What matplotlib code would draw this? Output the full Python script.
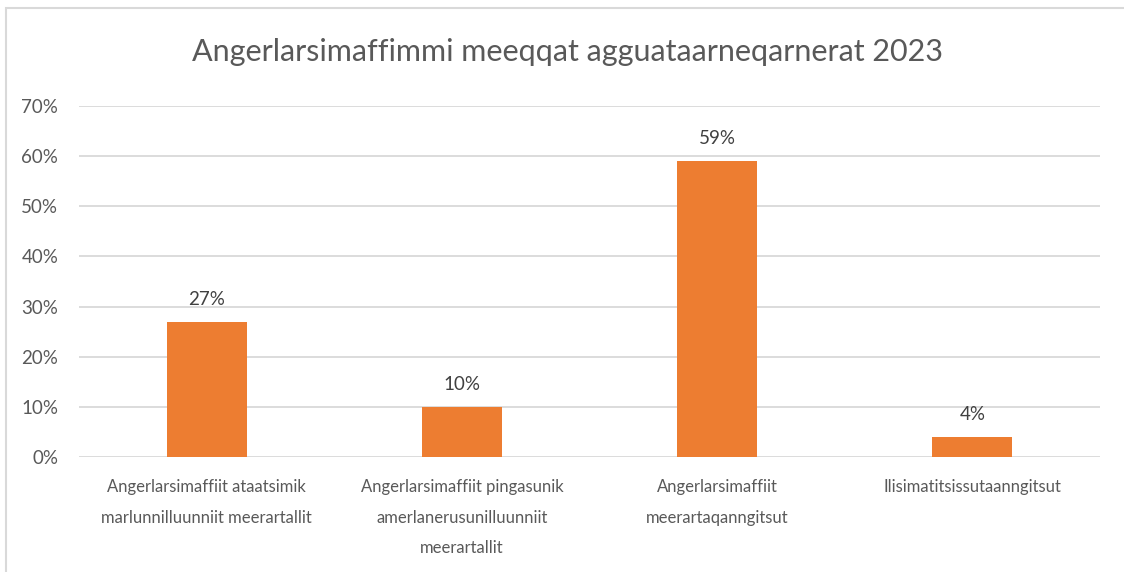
import matplotlib.pyplot as plt
from matplotlib.patches import Rectangle
from matplotlib.ticker import PercentFormatter

categories = [
    "Angerlarsimaffiit ataatsimik\nmarlunnilluunniit meerartallit",
    "Angerlarsimaffiit pingasunik\namerlanerusunilluunniit\nmeerartallit",
    "Angerlarsimaffiit\nmeerartaqanngitsut",
    "Ilisimatitsissutaanngitsut",
]
shares = [27, 10, 59, 4]
title = "Angerlarsimaffimmi meeqqat agguataarneqarnerat 2023"

plt.rcParams["font.family"] = ["Lato", "DejaVu Sans"]
text_color = "#595959"
bar_color = "#ED7D31"
grid_color = "#D9D9D9"

W, H = 1124, 572
fig = plt.figure(figsize=(W / 100, H / 100), dpi=100)

# chart frame (runs off the right and bottom edge)
fig.patches.append(Rectangle((6 / W, -0.1), 1.2, 1 - 7.5 / H + 0.1,
                             transform=fig.transFigure, fill=False,
                             edgecolor=grid_color, linewidth=1.5))

ax = fig.add_axes([79 / W, 1 - 457 / H, (1100 - 79) / W, (457 - 106) / H])
x = range(len(categories))
ax.bar(x, shares, width=0.313, color=bar_color, zorder=3)
for xi, v in zip(x, shares):
    ax.text(xi, v + 2.8, f"{v}%", ha="center", va="bottom",
            fontsize=13.5, color="#404040")

ax.set_xlim(-0.5, len(categories) - 0.5)
ax.set_ylim(0, 70)
ax.set_yticks(range(0, 71, 10))
ax.yaxis.set_major_formatter(PercentFormatter(decimals=0))
ax.set_xticks(list(x))
ax.set_xticklabels(categories, fontsize=12, color=text_color, linespacing=2.1)
ax.tick_params(axis="y", labelsize=13.5, labelcolor=text_color, length=0, pad=15)
ax.tick_params(axis="x", length=0, pad=16)
ax.grid(axis="y", color=grid_color, linewidth=1.3, zorder=0)
for s in ax.spines.values():
    s.set_visible(False)

fig.text(567 / W, 1 - 52 / H, title, ha="center", va="center",
         fontsize=22, color=text_color)

fig.savefig("out.png", dpi=100)
